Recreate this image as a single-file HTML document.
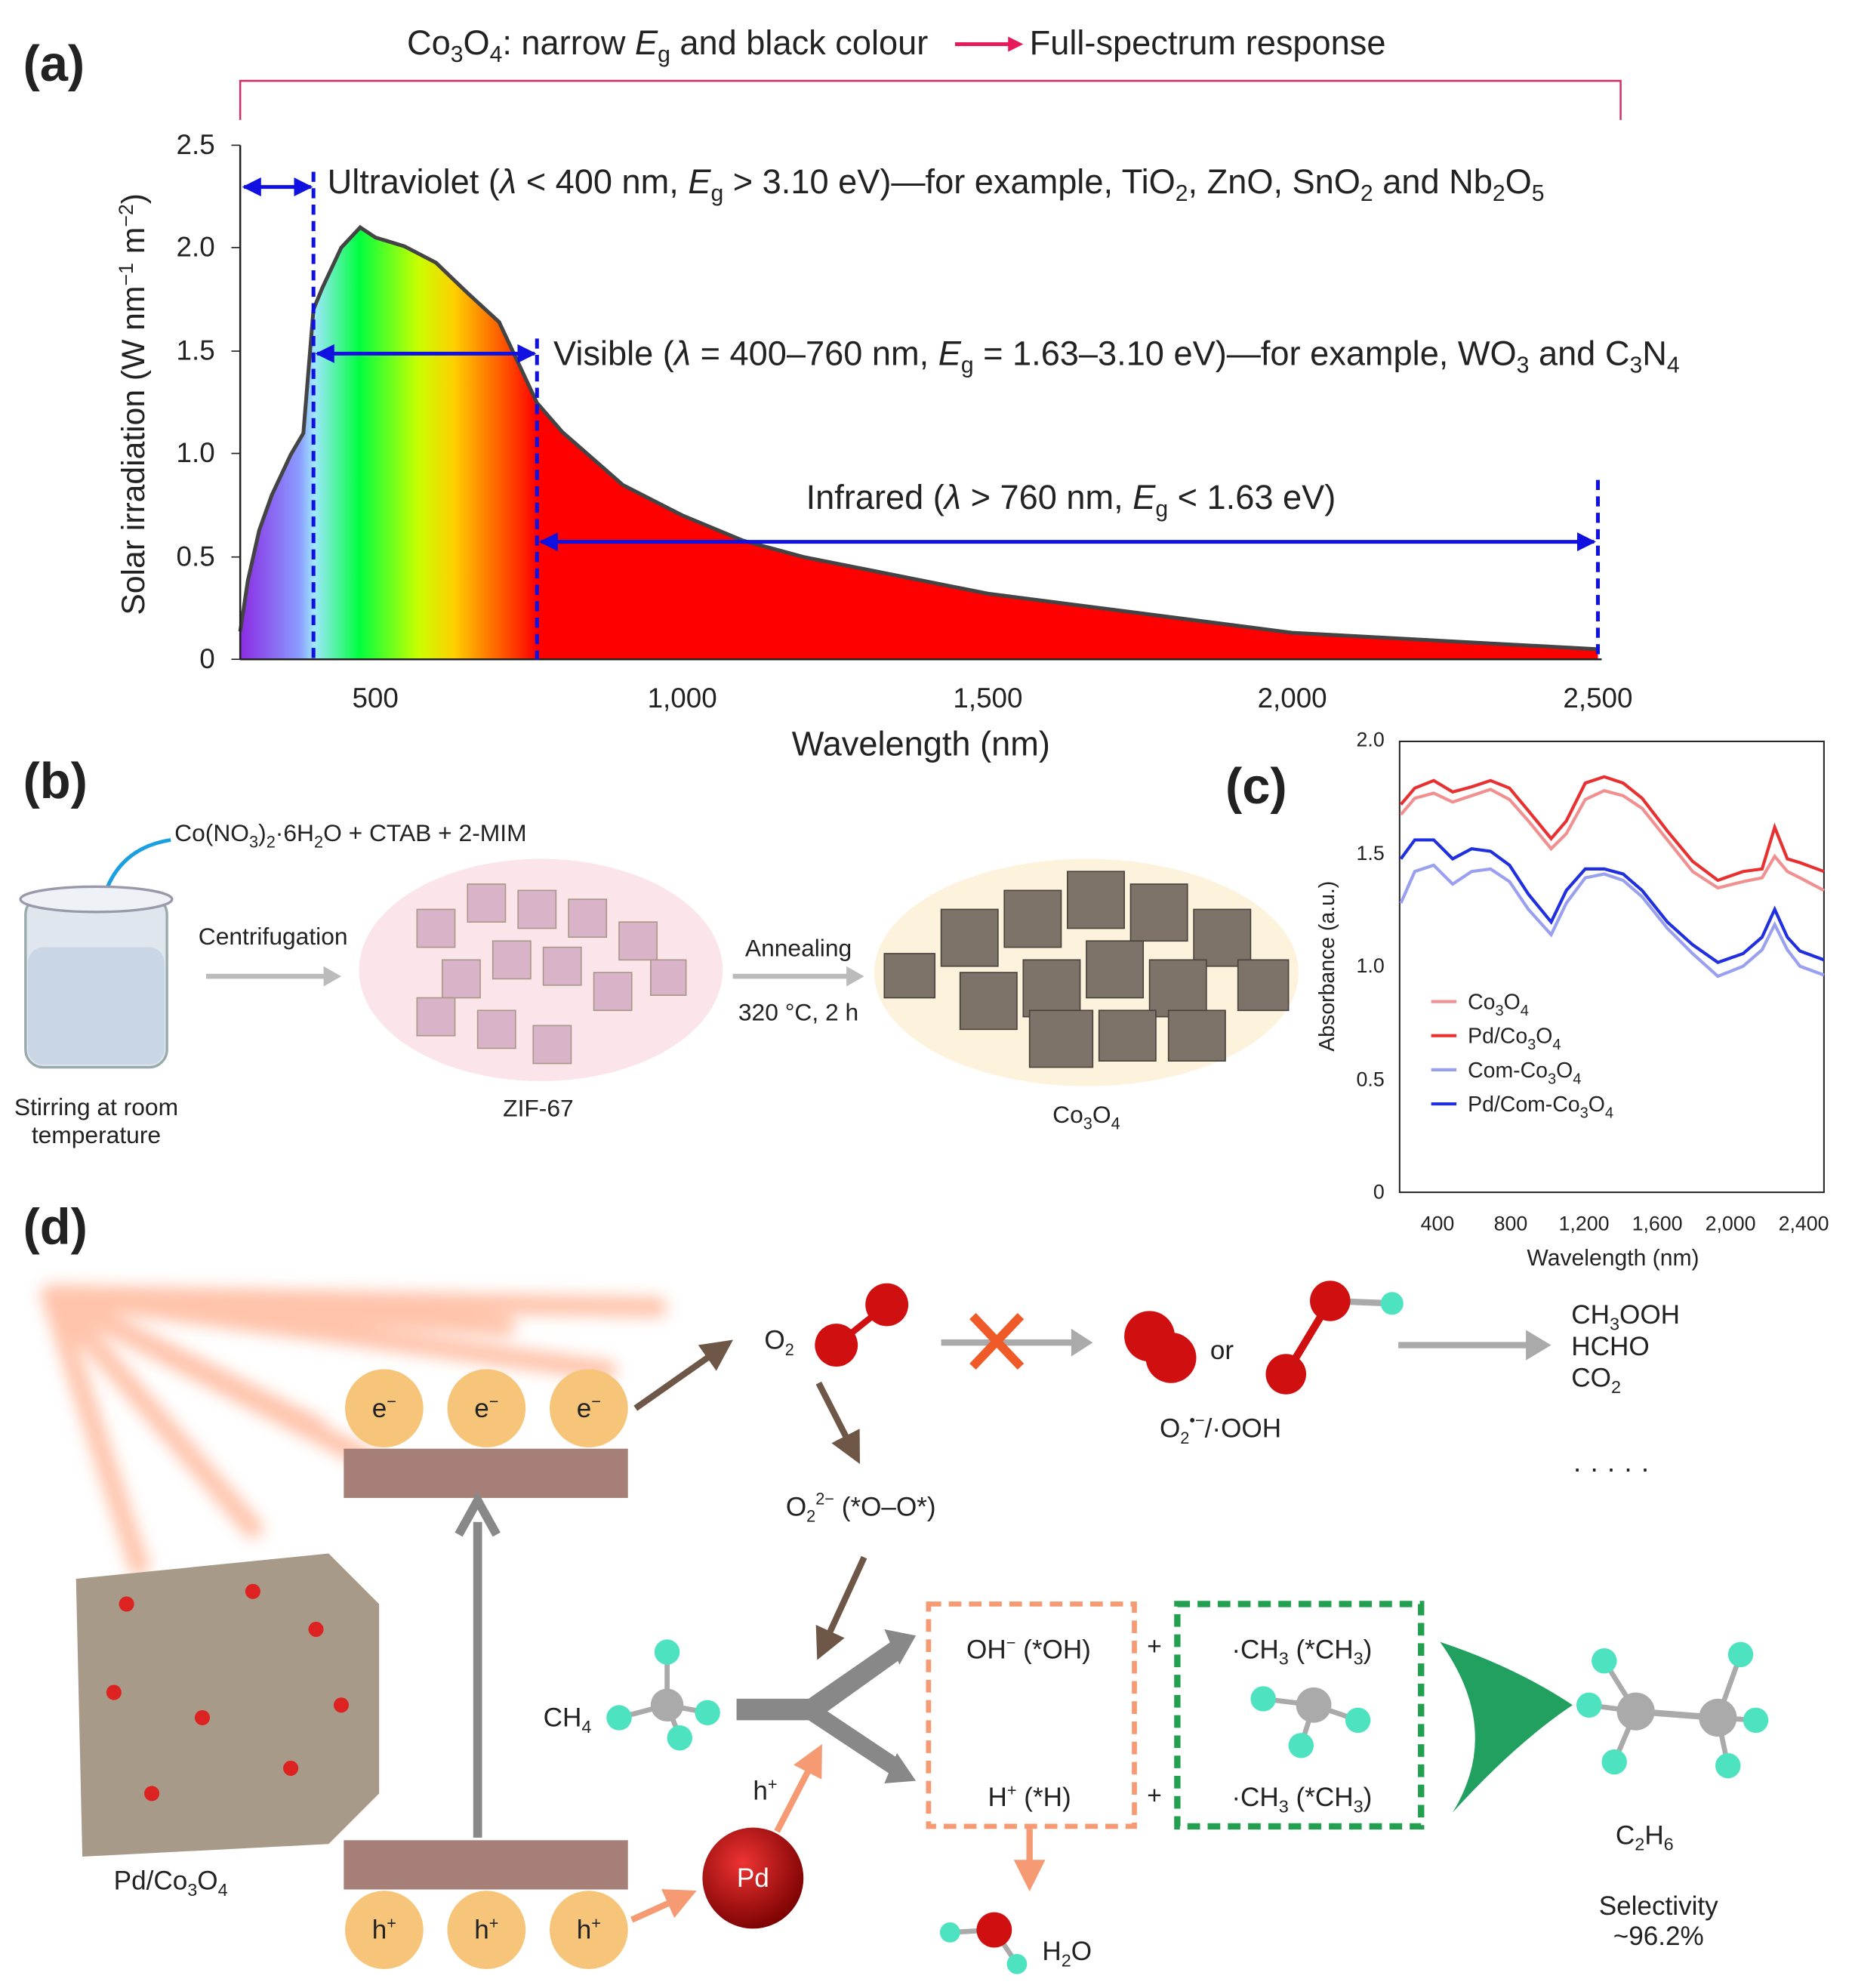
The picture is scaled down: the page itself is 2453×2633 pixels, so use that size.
<!DOCTYPE html>
<html><head><meta charset="utf-8"><style>html,body{margin:0;padding:0;background:#fff}svg{display:block}text{font-family:"Liberation Sans",sans-serif;fill:#222}</style></head><body>
<svg width="2453" height="2633" viewBox="0 0 1466 1574" xmlns="http://www.w3.org/2000/svg">
<defs>
<linearGradient id="spec" x1="190" x2="425" y1="0" y2="0" gradientUnits="userSpaceOnUse">
<stop offset="0" stop-color="#8a2be2"/><stop offset="0.2" stop-color="#8a9cff"/><stop offset="0.25" stop-color="#a0e8ff"/><stop offset="0.4" stop-color="#00ff40"/><stop offset="0.6" stop-color="#c8ff00"/><stop offset="0.72" stop-color="#ffd000"/><stop offset="0.85" stop-color="#ff7000"/><stop offset="1" stop-color="#ff0000"/></linearGradient>
<filter id="blur"><feGaussianBlur stdDeviation="6"/></filter>
<radialGradient id="pd" cx="0.4" cy="0.35" r="0.7"><stop offset="0" stop-color="#e33"/><stop offset="1" stop-color="#700"/></radialGradient>
<marker id="ab" viewBox="0 0 10 10" refX="9" refY="5" markerWidth="5" markerHeight="5" orient="auto-start-reverse"><path d="M0,0L10,5L0,10z" fill="#1010e0"/></marker>
<marker id="br" viewBox="0 0 10 10" refX="5" refY="5" markerWidth="5" markerHeight="5" orient="auto"><path d="M0,0L10,5L0,10z" fill="#6e5746"/></marker>
<marker id="or" viewBox="0 0 10 10" refX="5" refY="5" markerWidth="5" markerHeight="5" orient="auto"><path d="M0,0L10,5L0,10z" fill="#f59a72"/></marker>
</defs>
<!-- (a) -->
<text x="18" y="64" font-size="40" font-weight="bold">(a)</text>
<text x="322" y="43" font-size="27">Co<tspan font-size="18" dy="6">3</tspan><tspan dy="-6">O</tspan><tspan font-size="18" dy="6">4</tspan><tspan dy="-6">: narrow </tspan><tspan font-style="italic">E</tspan><tspan font-size="18" dy="6">g</tspan><tspan dy="-6"> and black colour</tspan></text>
<line x1="756" y1="35" x2="800" y2="35" stroke="#e8185a" stroke-width="3"/><path d="M798,29L810,35L798,41z" fill="#e8185a"/>
<text x="815" y="43" font-size="27">Full-spectrum response</text>
<path d="M190,95V64H1283V95" fill="none" stroke="#d0306a" stroke-width="1.5"/>
<polygon fill="url(#spec)" points="190,522 190,500 196,460 205,420 215,392 230,360 240,343 248,245 255,228 270,196 285,180 297,188 320,195 345,208 370,232 395,255 425,319 445,342 493,384 540,408 588,428 636,441 782,470 1023,501 1265,514 1265,522"/>
<polygon fill="#ff0000" points="425,522 425,319 445,342 493,384 540,408 588,428 636,441 782,470 1023,501 1265,514 1265,522"/>
<polyline fill="none" stroke="#444" stroke-width="3" points="190,500 196,460 205,420 215,392 230,360 240,343 248,245 255,228 270,196 285,180 297,188 320,195 345,208 370,232 395,255 425,319 445,342 493,384 540,408 588,428 636,441 782,470 1023,501 1265,514"/>
<line x1="190" y1="115" x2="190" y2="522" stroke="#222" stroke-width="1.5"/><line x1="190" y1="522" x2="1268" y2="522" stroke="#222" stroke-width="1.5"/>
<g font-size="22" text-anchor="end"><text x="170" y="529">0</text><text x="170" y="448">0.5</text><text x="170" y="366">1.0</text><text x="170" y="285">1.5</text><text x="170" y="203">2.0</text><text x="170" y="122">2.5</text></g>
<g stroke="#222"><line x1="183" y1="522" x2="190" y2="522"/><line x1="183" y1="441" x2="190" y2="441"/><line x1="183" y1="359" x2="190" y2="359"/><line x1="183" y1="278" x2="190" y2="278"/><line x1="183" y1="196" x2="190" y2="196"/><line x1="183" y1="115" x2="190" y2="115"/></g>
<g font-size="22" text-anchor="middle"><text x="297" y="560">500</text><text x="540" y="560">1,000</text><text x="782" y="560">1,500</text><text x="1023" y="560">2,000</text><text x="1265" y="560">2,500</text></g>
<text x="729" y="598" font-size="27" text-anchor="middle">Wavelength (nm)</text>
<text transform="translate(114,320) rotate(-90)" font-size="25.5" text-anchor="middle">Solar irradiation (W nm<tspan font-size="16" dy="-9">−1</tspan><tspan dy="9"> m</tspan><tspan font-size="16" dy="-9">−2</tspan><tspan dy="9">)</tspan></text>
<g stroke="#1010e0" stroke-width="3" stroke-dasharray="8,5"><line x1="248" y1="136" x2="248" y2="522"/><line x1="425" y1="268" x2="425" y2="522"/><line x1="1265" y1="380" x2="1265" y2="522"/></g>
<g stroke="#1010e0" stroke-width="3"><line x1="193" y1="148" x2="246" y2="148" marker-start="url(#ab)" marker-end="url(#ab)"/><line x1="251" y1="280" x2="423" y2="280" marker-start="url(#ab)" marker-end="url(#ab)"/><line x1="428" y1="429" x2="1262" y2="429" marker-start="url(#ab)" marker-end="url(#ab)"/></g>
<text x="259" y="153" font-size="27">Ultraviolet (<tspan font-style="italic">λ</tspan> &lt; 400 nm, <tspan font-style="italic">E</tspan><tspan font-size="18" dy="6">g</tspan><tspan dy="-6"> &gt; 3.10 eV)—for example, TiO</tspan><tspan font-size="18" dy="6">2</tspan><tspan dy="-6">, ZnO, SnO</tspan><tspan font-size="18" dy="6">2</tspan><tspan dy="-6"> and Nb</tspan><tspan font-size="18" dy="6">2</tspan><tspan dy="-6">O</tspan><tspan font-size="18" dy="6">5</tspan></text>
<text x="438" y="289" font-size="27">Visible (<tspan font-style="italic">λ</tspan> = 400–760 nm, <tspan font-style="italic">E</tspan><tspan font-size="18" dy="6">g</tspan><tspan dy="-6"> = 1.63–3.10 eV)—for example, WO</tspan><tspan font-size="18" dy="6">3</tspan><tspan dy="-6"> and C</tspan><tspan font-size="18" dy="6">3</tspan><tspan dy="-6">N</tspan><tspan font-size="18" dy="6">4</tspan></text>
<text x="638" y="403" font-size="27">Infrared (<tspan font-style="italic">λ</tspan> &gt; 760 nm, <tspan font-style="italic">E</tspan><tspan font-size="18" dy="6">g</tspan><tspan dy="-6"> &lt; 1.63 eV)</tspan></text>
<!-- (b) -->
<text x="18" y="632" font-size="40" font-weight="bold">(b)</text>
<text x="138" y="666" font-size="19">Co(NO<tspan font-size="13" dy="5">3</tspan><tspan dy="-5">)</tspan><tspan font-size="13" dy="5">2</tspan><tspan dy="-5">·6H</tspan><tspan font-size="13" dy="5">2</tspan><tspan dy="-5">O + CTAB + 2-MIM</tspan></text>
<path d="M135,665 Q90,672 80,718" fill="none" stroke="#1aa0e0" stroke-width="3"/>
<rect x="20" y="710" width="112" height="135" rx="14" fill="#dfe6ee" stroke="#9aa" stroke-width="2"/>
<rect x="22" y="750" width="108" height="93" rx="12" fill="#c8d6e6"/>
<ellipse cx="76" cy="712" rx="60" ry="10" fill="#eef2f6" stroke="#99a" stroke-width="2"/>
<text x="76" y="883" font-size="19" text-anchor="middle">Stirring at room</text><text x="76" y="905" font-size="19" text-anchor="middle">temperature</text>
<text x="216" y="748" font-size="19" text-anchor="middle">Centrifugation</text>
<line x1="163" y1="773" x2="258" y2="773" stroke="#bbb" stroke-width="4"/><path d="M256,765L270,773L256,781z" fill="#bbb"/>
<ellipse cx="428" cy="768" rx="144" ry="88" fill="#fbe4ea"/>
<g fill="#d9b3c8" stroke="#a98" stroke-width="1"><rect x="330" y="720" width="30" height="30"/><rect x="370" y="700" width="30" height="30"/><rect x="410" y="705" width="30" height="30"/><rect x="450" y="712" width="30" height="30"/><rect x="490" y="730" width="30" height="30"/><rect x="350" y="760" width="30" height="30"/><rect x="390" y="745" width="30" height="30"/><rect x="430" y="750" width="30" height="30"/><rect x="470" y="770" width="30" height="30"/><rect x="330" y="790" width="30" height="30"/><rect x="378" y="800" width="30" height="30"/><rect x="422" y="812" width="30" height="30"/><rect x="515" y="760" width="28" height="28"/></g>
<text x="426" y="884" font-size="19" text-anchor="middle">ZIF-67</text>
<text x="632" y="757" font-size="19" text-anchor="middle">Annealing</text>
<line x1="580" y1="773" x2="672" y2="773" stroke="#bbb" stroke-width="4"/><path d="M670,765L684,773L670,781z" fill="#bbb"/>
<text x="632" y="808" font-size="19" text-anchor="middle">320 °C, 2 h</text>
<ellipse cx="860" cy="770" rx="168" ry="90" fill="#fdf3dc"/>
<g fill="#7d7368" stroke="#4a443e" stroke-width="1"><rect x="700" y="755" width="40" height="35"/><rect x="745" y="720" width="45" height="45"/><rect x="795" y="705" width="45" height="45"/><rect x="845" y="690" width="45" height="45"/><rect x="895" y="700" width="45" height="45"/><rect x="945" y="720" width="45" height="45"/><rect x="980" y="760" width="40" height="40"/><rect x="760" y="770" width="45" height="45"/><rect x="810" y="760" width="45" height="45"/><rect x="860" y="745" width="45" height="45"/><rect x="910" y="760" width="45" height="45"/><rect x="815" y="800" width="50" height="45"/><rect x="870" y="800" width="45" height="40"/><rect x="925" y="800" width="45" height="40"/></g>
<text x="860" y="889" font-size="19" text-anchor="middle">Co<tspan font-size="13" dy="5">3</tspan><tspan dy="-5">O</tspan><tspan font-size="13" dy="5">4</tspan></text>
<!-- (c) -->
<text x="970" y="636" font-size="40" font-weight="bold">(c)</text>
<rect x="1108" y="587" width="336" height="357" fill="none" stroke="#222" stroke-width="1.2"/>
<g font-size="16" text-anchor="end"><text x="1096" y="949">0</text><text x="1096" y="860">0.5</text><text x="1096" y="770">1.0</text><text x="1096" y="681">1.5</text><text x="1096" y="591">2.0</text></g>
<g font-size="16" text-anchor="middle"><text x="1138" y="974">400</text><text x="1196" y="974">800</text><text x="1254" y="974">1,200</text><text x="1312" y="974">1,600</text><text x="1370" y="974">2,000</text><text x="1428" y="974">2,400</text></g>
<text x="1277" y="1002" font-size="18" text-anchor="middle">Wavelength (nm)</text>
<text transform="translate(1056,765) rotate(-90)" font-size="17" text-anchor="middle">Absorbance (a.u.)</text>
<polyline fill="none" stroke="#f09090" stroke-width="2.5" points="1109,645 1120,632 1135,628 1150,635 1165,630 1180,625 1195,633 1210,650 1228,672 1240,660 1255,633 1270,626 1285,630 1300,640 1320,665 1340,690 1360,703 1380,698 1395,695 1405,678 1415,690 1425,695 1444,705"/>
<polyline fill="none" stroke="#e83030" stroke-width="2.5" points="1109,637 1120,624 1135,618 1150,627 1165,623 1180,618 1195,624 1210,642 1228,664 1240,650 1255,620 1270,615 1285,620 1300,632 1320,658 1340,682 1360,697 1380,690 1395,688 1405,655 1415,680 1425,683 1444,690"/>
<polyline fill="none" stroke="#9aa0f0" stroke-width="2.5" points="1109,715 1120,690 1135,685 1150,700 1165,690 1180,688 1195,698 1210,720 1228,740 1240,715 1255,695 1270,692 1285,697 1300,710 1320,735 1340,755 1360,773 1380,765 1395,752 1405,732 1415,752 1425,765 1444,772"/>
<polyline fill="none" stroke="#2030e0" stroke-width="2.5" points="1109,680 1120,665 1135,665 1150,680 1165,672 1180,674 1195,685 1210,708 1228,730 1240,705 1255,688 1270,688 1285,692 1300,705 1320,730 1340,748 1360,762 1380,755 1395,742 1405,720 1415,742 1425,753 1444,760"/>
<g font-size="17"><line x1="1133" y1="793" x2="1153" y2="793" stroke="#f09090" stroke-width="2.5"/><text x="1162" y="799">Co<tspan font-size="12" dy="5">3</tspan><tspan dy="-5">O</tspan><tspan font-size="12" dy="5">4</tspan></text>
<line x1="1133" y1="820" x2="1153" y2="820" stroke="#e83030" stroke-width="2.5"/><text x="1162" y="826">Pd/Co<tspan font-size="12" dy="5">3</tspan><tspan dy="-5">O</tspan><tspan font-size="12" dy="5">4</tspan></text>
<line x1="1133" y1="847" x2="1153" y2="847" stroke="#9aa0f0" stroke-width="2.5"/><text x="1162" y="853">Com-Co<tspan font-size="12" dy="5">3</tspan><tspan dy="-5">O</tspan><tspan font-size="12" dy="5">4</tspan></text>
<line x1="1133" y1="874" x2="1153" y2="874" stroke="#2030e0" stroke-width="2.5"/><text x="1162" y="880">Pd/Com-Co<tspan font-size="12" dy="5">3</tspan><tspan dy="-5">O</tspan><tspan font-size="12" dy="5">4</tspan></text></g>
<!-- (d) -->
<text x="18" y="985" font-size="40" font-weight="bold">(d)</text>
<g stroke="#ff7a45" stroke-width="16" opacity="0.45" stroke-linecap="round" filter="url(#blur)"><line x1="40" y1="1025" x2="520" y2="1035"/><line x1="40" y1="1025" x2="480" y2="1085"/><line x1="40" y1="1025" x2="300" y2="1160"/><line x1="40" y1="1025" x2="200" y2="1210"/><line x1="40" y1="1025" x2="110" y2="1240"/><line x1="40" y1="1025" x2="400" y2="1050"/><line x1="40" y1="1025" x2="250" y2="1130"/></g>
<path d="M60,1250 L260,1230 L300,1270 L300,1420 L260,1460 L65,1470z" fill="#a89a88"/>
<g fill="#d22"><circle cx="100" cy="1270" r="6"/><circle cx="200" cy="1260" r="6"/><circle cx="250" cy="1290" r="6"/><circle cx="90" cy="1340" r="6"/><circle cx="160" cy="1360" r="6"/><circle cx="230" cy="1400" r="6"/><circle cx="120" cy="1420" r="6"/><circle cx="270" cy="1350" r="6"/></g>
<text x="135" y="1496" font-size="21" text-anchor="middle">Pd/Co<tspan font-size="14" dy="5">3</tspan><tspan dy="-5">O</tspan><tspan font-size="14" dy="5">4</tspan></text>
<rect x="272" y="1147" width="225" height="39" fill="#a57f78"/>
<rect x="272" y="1457" width="225" height="39" fill="#a57f78"/>
<line x1="378" y1="1455" x2="378" y2="1205" stroke="#888" stroke-width="7"/><path d="M363,1215L378,1188L393,1215" fill="none" stroke="#888" stroke-width="7"/>
<g fill="#f7c57a"><circle cx="304" cy="1115" r="31"/><circle cx="385" cy="1115" r="31"/><circle cx="466" cy="1115" r="31"/><circle cx="304" cy="1528" r="31"/><circle cx="385" cy="1528" r="31"/><circle cx="466" cy="1528" r="31"/></g>
<g font-size="21" text-anchor="middle"><text x="304" y="1122">e<tspan font-size="13" dy="-8">−</tspan></text><text x="385" y="1122">e<tspan font-size="13" dy="-8">−</tspan></text><text x="466" y="1122">e<tspan font-size="13" dy="-8">−</tspan></text><text x="304" y="1535">h<tspan font-size="13" dy="-8">+</tspan></text><text x="385" y="1535">h<tspan font-size="13" dy="-8">+</tspan></text><text x="466" y="1535">h<tspan font-size="13" dy="-8">+</tspan></text></g>
<g stroke="#6e5746" stroke-width="5"><line x1="503" y1="1115" x2="570" y2="1068" marker-end="url(#br)"/><line x1="648" y1="1095" x2="675" y2="1148" marker-end="url(#br)"/><line x1="684" y1="1233" x2="652" y2="1303" marker-end="url(#br)"/></g>
<text x="605" y="1068" font-size="21">O<tspan font-size="13" dy="5">2</tspan></text>
<line x1="662" y1="1065" x2="702" y2="1033" stroke="#d01010" stroke-width="5"/>
<circle cx="662" cy="1065" r="17" fill="#d01010"/><circle cx="702" cy="1033" r="17" fill="#d01010"/>
<line x1="745" y1="1063" x2="850" y2="1063" stroke="#aaa" stroke-width="5"/><path d="M848,1052L865,1063L848,1074z" fill="#aaa"/>
<g stroke="#f05a28" stroke-width="7"><line x1="770" y1="1042" x2="808" y2="1082"/><line x1="808" y1="1042" x2="770" y2="1082"/></g>
<circle cx="910" cy="1058" r="20" fill="#d01010"/><circle cx="927" cy="1075" r="20" fill="#d01010"/>
<text x="958" y="1076" font-size="21">or</text>
<line x1="1018" y1="1088" x2="1053" y2="1030" stroke="#d01010" stroke-width="6"/><line x1="1053" y1="1030" x2="1102" y2="1032" stroke="#aaa" stroke-width="5"/>
<circle cx="1018" cy="1088" r="16" fill="#d01010"/><circle cx="1053" cy="1030" r="16" fill="#d01010"/><circle cx="1102" cy="1032" r="9" fill="#4ee3c0"/>
<text x="918" y="1138" font-size="21">O<tspan font-size="13" dy="5">2</tspan><tspan font-size="13" dy="-14">•−</tspan><tspan dy="9">/·OOH</tspan></text>
<line x1="1107" y1="1065" x2="1210" y2="1065" stroke="#aaa" stroke-width="5"/><path d="M1208,1053L1228,1065L1208,1077z" fill="#aaa"/>
<g font-size="21"><text x="1244" y="1048">CH<tspan font-size="14" dy="5">3</tspan><tspan dy="-5">OOH</tspan></text><text x="1244" y="1073">HCHO</text><text x="1244" y="1098">CO<tspan font-size="14" dy="5">2</tspan></text><text x="1245" y="1170" font-size="22">· · · · ·</text></g>
<text x="622" y="1200" font-size="21">O<tspan font-size="13" dy="5">2</tspan><tspan font-size="13" dy="-14">2−</tspan><tspan dy="9"> (*O–O*)</tspan></text>
<text x="430" y="1367" font-size="21">CH<tspan font-size="14" dy="5">4</tspan></text>
<g stroke="#aaa" stroke-width="4"><line x1="528" y1="1350" x2="528" y2="1310"/><line x1="528" y1="1350" x2="490" y2="1360"/><line x1="528" y1="1350" x2="560" y2="1356"/><line x1="528" y1="1350" x2="538" y2="1375"/></g>
<circle cx="528" cy="1350" r="13" fill="#aaa"/>
<g fill="#4ee3c0"><circle cx="528" cy="1308" r="10"/><circle cx="490" cy="1360" r="10"/><circle cx="560" cy="1356" r="10"/><circle cx="538" cy="1376" r="10"/></g>
<path d="M583,1345 L640,1345 L705,1300 L715,1312 L655,1355 L715,1395 L705,1405 L640,1362 L583,1362z" fill="#888"/>
<path d="M700,1290L725,1295L712,1318z" fill="#888"/><path d="M700,1412L725,1410L710,1388z" fill="#888"/>
<circle cx="596" cy="1487" r="40" fill="url(#pd)"/><text x="596" y="1494" font-size="21" text-anchor="middle" style="fill:#fff">Pd</text>
<g stroke="#f59a72" stroke-width="5"><line x1="500" y1="1520" x2="540" y2="1502" marker-end="url(#or)"/><line x1="615" y1="1450" x2="645" y2="1392" marker-end="url(#or)"/><line x1="815" y1="1448" x2="815" y2="1485" marker-end="url(#or)"/></g>
<text x="596" y="1425" font-size="21">h<tspan font-size="13" dy="-8">+</tspan></text>
<rect x="735" y="1270" width="163" height="176" fill="none" stroke="#f59a72" stroke-width="4" stroke-dasharray="10,6"/>
<rect x="932" y="1270" width="193" height="176" fill="none" stroke="#22a050" stroke-width="5" stroke-dasharray="10,6"/>
<text x="765" y="1313" font-size="21">OH<tspan font-size="13" dy="-8">−</tspan><tspan dy="8"> (*OH)</tspan></text>
<text x="782" y="1430" font-size="21">H<tspan font-size="13" dy="-8">+</tspan><tspan dy="8"> (*H)</tspan></text>
<text x="908" y="1310" font-size="20">+</text><text x="908" y="1428" font-size="20">+</text>
<text x="975" y="1313" font-size="21">·CH<tspan font-size="14" dy="5">3</tspan><tspan dy="-5"> (*CH</tspan><tspan font-size="14" dy="5">3</tspan><tspan dy="-5">)</tspan></text>
<text x="975" y="1430" font-size="21">·CH<tspan font-size="14" dy="5">3</tspan><tspan dy="-5"> (*CH</tspan><tspan font-size="14" dy="5">3</tspan><tspan dy="-5">)</tspan></text>
<g stroke="#aaa" stroke-width="4"><line x1="1040" y1="1350" x2="1000" y2="1345"/><line x1="1040" y1="1350" x2="1075" y2="1362"/><line x1="1040" y1="1350" x2="1030" y2="1382"/></g>
<circle cx="1040" cy="1350" r="14" fill="#aaa"/><g fill="#4ee3c0"><circle cx="1000" cy="1345" r="10"/><circle cx="1075" cy="1362" r="10"/><circle cx="1030" cy="1382" r="10"/></g>
<path d="M1140,1300 Q1200,1320 1245,1350 Q1200,1380 1150,1435 Q1190,1370 1140,1300z" fill="#22a060"/>
<g stroke="#aaa" stroke-width="4"><line x1="1295" y1="1355" x2="1270" y2="1315"/><line x1="1295" y1="1355" x2="1258" y2="1350"/><line x1="1295" y1="1355" x2="1278" y2="1395"/><line x1="1360" y1="1360" x2="1378" y2="1310"/><line x1="1360" y1="1360" x2="1390" y2="1362"/><line x1="1360" y1="1360" x2="1368" y2="1398"/></g>
<line x1="1295" y1="1355" x2="1360" y2="1360" stroke="#aaa" stroke-width="5"/>
<circle cx="1295" cy="1355" r="15" fill="#aaa"/><circle cx="1360" cy="1360" r="15" fill="#aaa"/>
<g fill="#4ee3c0"><circle cx="1270" cy="1315" r="10"/><circle cx="1258" cy="1350" r="10"/><circle cx="1278" cy="1395" r="10"/><circle cx="1378" cy="1310" r="10"/><circle cx="1390" cy="1362" r="10"/><circle cx="1368" cy="1398" r="10"/></g>
<text x="1302" y="1460" font-size="21" text-anchor="middle">C<tspan font-size="14" dy="5">2</tspan><tspan dy="-5">H</tspan><tspan font-size="14" dy="5">6</tspan></text>
<text x="1313" y="1516" font-size="21" text-anchor="middle">Selectivity</text><text x="1313" y="1540" font-size="21" text-anchor="middle">~96.2%</text>
<g stroke="#aaa" stroke-width="4"><line x1="787" y1="1528" x2="752" y2="1530"/><line x1="787" y1="1528" x2="805" y2="1555"/></g>
<circle cx="787" cy="1528" r="14" fill="#d01010"/><circle cx="752" cy="1530" r="8" fill="#4ee3c0"/><circle cx="805" cy="1555" r="8" fill="#4ee3c0"/>
<text x="825" y="1552" font-size="21">H<tspan font-size="14" dy="5">2</tspan><tspan dy="-5">O</tspan></text>
</svg>
</body></html>
